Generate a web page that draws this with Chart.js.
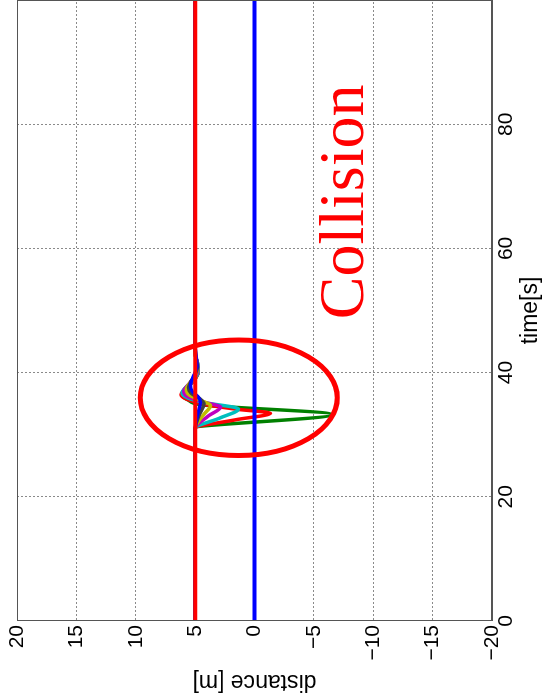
<!DOCTYPE html>
<html>
<head>
<meta charset="utf-8">
<script src="https://cdn.jsdelivr.net/npm/chart.js@4"></script>
<style>
  html, body { margin: 0; padding: 0; background: #fff; overflow: hidden; }
  /* the figure is printed sideways: draw it landscape, then turn it a quarter to the left */
  #wrap { position: absolute; left: 0; top: 0; width: 700px; height: 544px;
          transform-origin: 0 0; transform: translate(0, 700px) rotate(-90deg); }
</style>
</head>
<body>
<div id="wrap"><canvas id="plot" width="700" height="544"></canvas></div>
<script>
const timeTicks = [0, 20, 40, 60, 80];
const distanceTicks = [-20, -15, -10, -5, 0, 5, 10, 15, 20];

// reference lines
const leadTime = [0, 100];
const leadDist = [5, 5];
const laneTime = [0, 100];
const laneDist = [0, 0];

// responses around the collision
const greenT = [0, 31.0, 33.25, 34.8, 35.6, 36.4, 37.3, 38.5, 40.0, 41.5, 43.0, 100];
const greenD = [5, 5, -6.5, 4.4, 5.6, 6.1, 5.9, 5.2, 4.75, 4.8, 5, 5];
const redT = [0, 31.0, 32.4, 33.45, 34.1, 34.9, 35.7, 36.4, 37.3, 38.5, 40.0, 41.5, 43.0, 100];
const redD = [5, 5, 1.6, -1.35, 1.5, 4.3, 5.7, 6.2, 5.9, 5.2, 4.75, 4.8, 5, 5];
const cyanT = [0, 31.0, 32.7, 34.15, 35.2, 35.9, 36.7, 37.6, 38.7, 40.1, 41.6, 43.1, 100];
const cyanD = [5, 5, 2.9, 1.35, 4.3, 5.6, 6.1, 5.8, 5.2, 4.75, 4.8, 5, 5];
const magentaT = [0, 31.0, 33.0, 34.45, 35.3, 36.1, 37.0, 37.8, 38.9, 40.3, 41.8, 43.3, 100];
const magentaD = [5, 5, 3.9, 2.85, 4.4, 5.6, 5.95, 5.7, 5.2, 4.8, 4.85, 5, 5];
const yellowT = [0, 31.0, 33.2, 34.7, 35.5, 36.4, 37.3, 38.2, 39.2, 40.6, 42.0, 43.5, 100];
const yellowD = [5, 5, 4.3, 3.7, 4.5, 5.5, 5.75, 5.5, 5.1, 4.8, 4.9, 5, 5];
const blackT = [0, 31.0, 33.4, 35.0, 35.8, 36.7, 37.6, 38.4, 39.5, 40.8, 42.2, 43.7, 100];
const blackD = [5, 5, 4.6, 4.25, 4.6, 5.35, 5.55, 5.4, 5.05, 4.8, 4.9, 5, 5];
const blueT = [0, 31.0, 33.6, 35.2, 36.0, 37.0, 37.9, 38.7, 39.8, 41.0, 42.5, 44.0, 100];
const blueD = [5, 5, 4.75, 4.55, 4.7, 5.25, 5.4, 5.3, 5.05, 4.85, 4.9, 5, 5];

// hand-drawn note: ring and word, in data units
const ringTime = 35.95, ringDist = 1.33, ringTimeRadius = 9.3, ringDistRadius = 8.3;
const noteText = 'Collision', noteTime = 48.6, noteDist = -9.1;

const sans = 'Liberation Sans';
const pts = (t, d) => t.map((v, i) => ({ x: v, y: d[i] }));
const line = (label, t, d, color, width) => ({
  label, data: pts(t, d), borderColor: color, borderWidth: width,
  pointRadius: 0, fill: false, cubicInterpolationMode: 'monotone'
});

const overlay = {
  id: 'overlay',
  afterDatasetsDraw(chart) {
    const { ctx, chartArea: a, scales: { x, y } } = chart;
    ctx.save();
    ctx.strokeStyle = '#555';
    ctx.lineWidth = 1;
    ctx.strokeRect(a.left + 0.5, a.top + 0.5, a.right - a.left - 1, a.bottom - a.top - 1);

    const cx = x.getPixelForValue(ringTime), cy = y.getPixelForValue(ringDist);
    const rx = Math.abs(x.getPixelForValue(ringTime + ringTimeRadius) - cx);
    const ry = Math.abs(y.getPixelForValue(ringDist + ringDistRadius) - cy);
    ctx.strokeStyle = '#ff0000';
    ctx.lineWidth = 5;
    ctx.beginPath();
    ctx.ellipse(cx, cy, rx, ry, 0, 0, Math.PI * 2);
    ctx.stroke();

    ctx.fillStyle = '#ff0000';
    ctx.font = '64px "Liberation Serif"';
    ctx.textAlign = 'left';
    ctx.textBaseline = 'alphabetic';
    ctx.fillText(noteText, x.getPixelForValue(noteTime), y.getPixelForValue(noteDist));
    ctx.restore();
  }
};

new Chart(document.getElementById('plot'), {
  type: 'line',
  data: {
    datasets: [
      line('lead', leadTime, leadDist, '#ff0000', 4),
      line('lane', laneTime, laneDist, '#0000ff', 4),
      line('run 7', blueT, blueD, '#0000ff', 3.5),
      line('run 6', blackT, blackD, '#404040', 3.5),
      line('run 5', yellowT, yellowD, '#bfbf00', 3.5),
      line('run 4', magentaT, magentaD, '#bf00bf', 3.5),
      line('run 3', cyanT, cyanD, '#00bfbf', 3.5),
      line('run 2', redT, redD, '#ff0000', 3.5),
      line('run 1', greenT, greenD, '#008000', 3.5)
    ]
  },
  options: {
    responsive: false,
    animation: false,
    layout: { autoPadding: false, padding: { top: 17, left: 0, right: 0, bottom: 0 } },
    plugins: { legend: { display: false }, tooltip: { enabled: false } },
    scales: {
      x: {
        type: 'linear', min: 0, max: 100,
        afterBuildTicks: s => { s.ticks = timeTicks.map(v => ({ value: v })); },
        afterFit: s => { s.height = 52; },
        grid: { color: '#8a8a8a', lineWidth: 1, drawTicks: false },
        border: { display: true, color: '#555', width: 1, dash: [2, 2] },
        ticks: { padding: 2, color: '#000', maxRotation: 0, autoSkip: false,
                 font: { family: sans, size: 21 } },
        title: { display: true, text: 'time[s]', color: '#000',
                 font: { family: sans, size: 23 }, padding: { top: 0, bottom: 0 } }
      },
      y: {
        type: 'linear', min: -20, max: 20,
        afterBuildTicks: s => { s.ticks = distanceTicks.map(v => ({ value: v })); },
        afterFit: s => { s.width = 79; },
        grid: { color: '#8a8a8a', lineWidth: 1, drawTicks: false },
        border: { display: true, color: '#555', width: 1, dash: [2, 2] },
        ticks: { padding: 4, color: '#000', autoSkip: false,
                 font: { family: sans, size: 21 },
                 callback: v => String(v).replace('-', '\u2212') },
        title: { display: true, text: 'distance [m]', color: '#000',
                 font: { family: sans, size: 23 }, padding: { top: 5, bottom: 0 } }
      }
    }
  },
  plugins: [overlay]
});
</script>
</body>
</html>
